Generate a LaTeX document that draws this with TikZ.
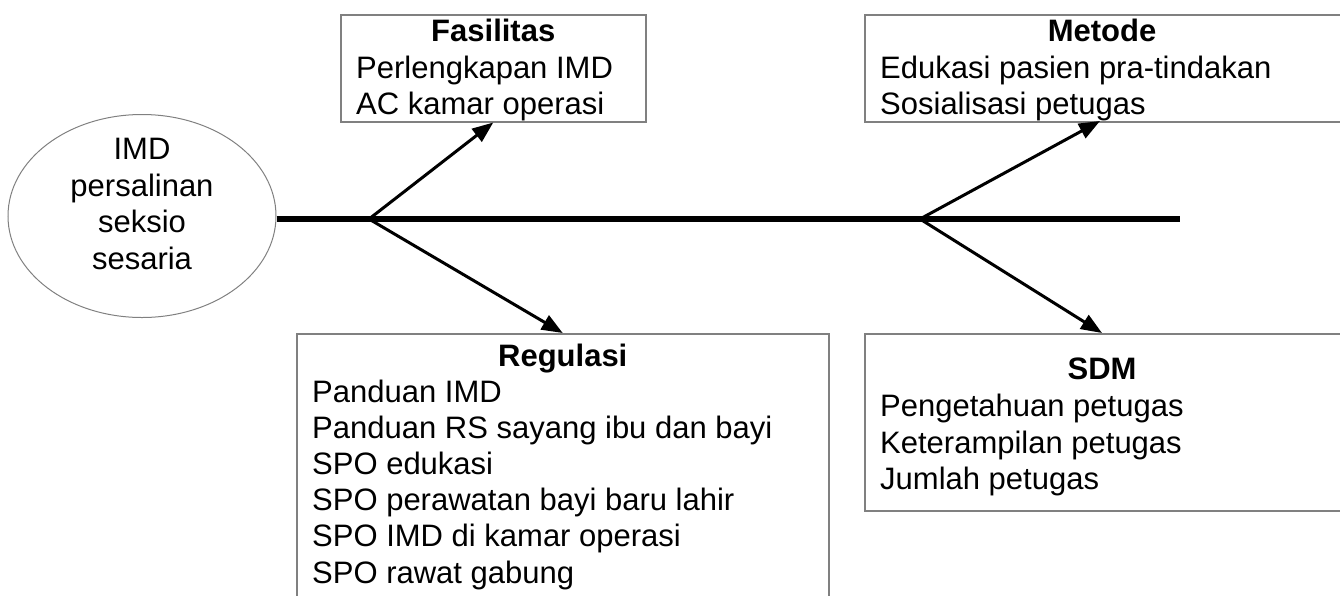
\documentclass[tikz,border=0pt]{standalone}
\usepackage{fontspec}
\setmainfont{Liberation Sans}
\usetikzlibrary{arrows.meta,shapes.geometric}
\definecolor{boxgray}{RGB}{128,128,128}
\tikzset{
  box/.style={draw=boxgray, line width=1.5pt, rectangle, inner sep=0pt, anchor=north west},
  ttl/.style={font=\fontsize{31}{36}\selectfont\bfseries, inner sep=0pt, anchor=base},
  item/.style={font=\fontsize{31}{36}\selectfont, inner sep=0pt, anchor=base west},
  branch/.style={line width=3pt, -{Triangle[length=21pt,width=16pt]}},
  spine/.style={line width=6pt},
}
\begin{document}
\begin{tikzpicture}[x=1pt,y=-1pt]
\useasboundingbox (0,0) rectangle (1340,595);
% effect
\node[ellipse, draw=boxgray, line width=1pt, minimum width=268pt, minimum height=203pt, inner sep=0pt] (eff) at (142,216) {};
\node[align=center, inner sep=0pt, font=\fontsize{31}{36.5}\selectfont] (efftext) at (142,204) {IMD\\persalinan\\seksio\\sesaria};
% spine
\coordinate (j1) at (369,219);
\coordinate (j2) at (920,219);
\coordinate (tail) at (1180,219);
\draw[spine] (eff.east |- j1) -- (tail);
% boxes
\node[box, minimum width=305pt, minimum height=107pt] (fas) at (340,14) {};
\node[box, minimum width=480pt, minimum height=107pt] (met) at (864,14) {};
\node[box, minimum width=532pt, minimum height=290pt] (reg) at (296,333) {};
\node[box, minimum width=480pt, minimum height=177pt] (sdm) at (864,333) {};
% Fasilitas
\node[ttl] (fasT) at (fas.center |- 0,41) {Fasilitas};
\node[item] (fas1) at (356,78) {Perlengkapan IMD};
\node[item] (fas2) at (356,114) {AC kamar operasi};
% Metode
\node[ttl] (metT) at (1102,41) {Metode};
\node[item] (met1) at (880,78) {Edukasi pasien pra-tindakan};
\node[item] (met2) at (880,114) {Sosialisasi petugas};
% Regulasi
\node[ttl] (regT) at (reg.center |- 0,366) {Regulasi};
\foreach \t [count=\i] in {Panduan IMD, Panduan RS sayang ibu dan bayi, SPO edukasi, SPO perawatan bayi baru lahir, SPO IMD di kamar operasi, SPO rawat gabung}
  \node[item] (reg\i) at (312,{402+(\i-1)*36.2}) {\t};
% SDM
\node[ttl] (sdmT) at (1102,379) {SDM};
\node[item] (sdm1) at (880,416) {Pengetahuan petugas};
\node[item] (sdm2) at (880,453) {Keterampilan petugas};
\node[item] (sdm3) at (880,489) {Jumlah petugas};
% branches
\draw[branch] (j1) -- (fas.south);
\draw[branch] (j1) -- (reg.north);
\draw[branch] (j2) -- (1100,121);
\draw[branch] (j2) -- (1102,333);
\end{tikzpicture}
\end{document}
